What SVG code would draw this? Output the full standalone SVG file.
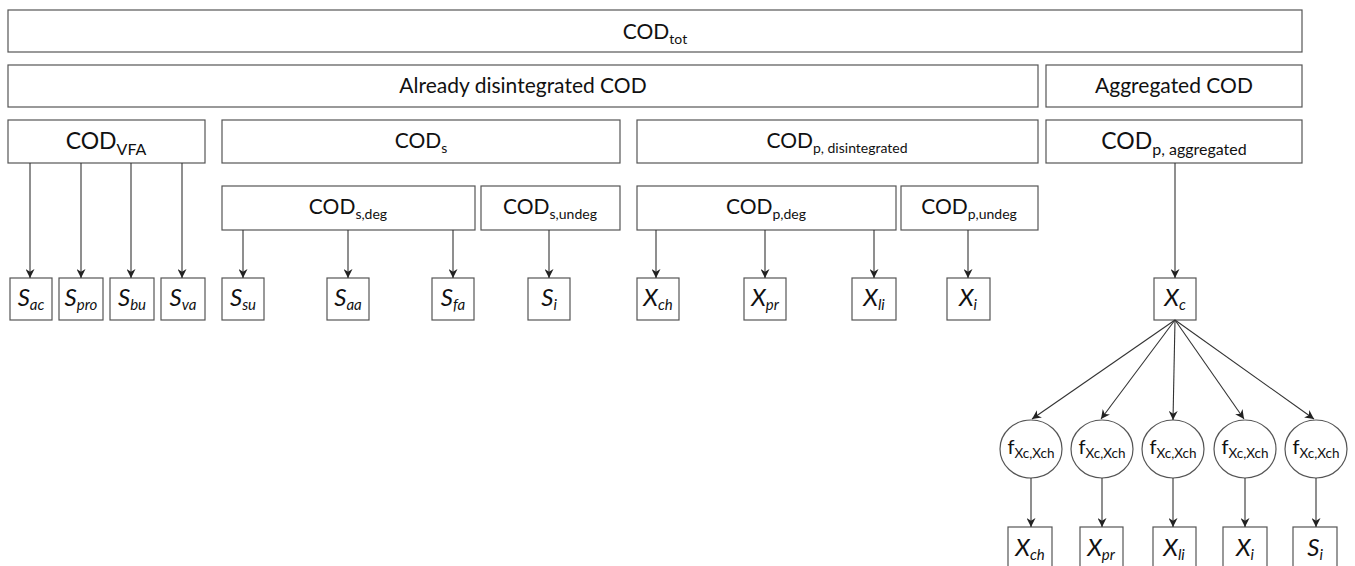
<svg xmlns="http://www.w3.org/2000/svg" width="1355" height="566" viewBox="0 0 1355 566">
<defs>
<marker id="arr" viewBox="0 0 10 10" refX="10" refY="5" markerWidth="9" markerHeight="9" markerUnits="userSpaceOnUse" orient="auto">
<path d="M0,0 L10,5 L0,10 L3,5 z" fill="#222"/>
</marker>
<style>
rect, ellipse { fill: #fff; stroke: #555; stroke-width: 1.2; }
.c line { stroke: #333; stroke-width: 1.1; marker-end: url(#arr); }
text { font-family: Lato, "Open Sans", "Liberation Sans", sans-serif; fill: #111; text-anchor: middle; }
.h { font-size: 21px; }
.hb { font-size: 23px; }
.sub { font-size: 14px; }
.leaf { font-size: 24px; font-style: italic; }
.ls { font-size: 15px; font-style: italic; }
.f { font-size: 20px; }
.fs { font-size: 13.5px; }
</style>
</defs>
<rect width="1355" height="566" fill="#fff" style="stroke:none"/>

<g id="cod-tot"><rect x="8" y="10" width="1294" height="42"/><text class="h" x="655" y="39">COD<tspan class="sub" dy="5">tot</tspan></text></g>
<g id="already"><rect x="8" y="65" width="1030" height="42"/><text class="h" x="523" y="93">Already disintegrated COD</text></g>
<g id="aggregated"><rect x="1046" y="65" width="256" height="42"/><text class="h" x="1174" y="93">Aggregated COD</text></g>

<g id="cod-vfa"><rect x="8" y="120" width="197" height="43"/><text class="hb" x="106" y="149">COD<tspan class="sub" dy="6" style="font-size:16px">VFA</tspan></text></g>
<g id="cod-s"><rect x="222" y="120" width="398" height="43"/><text class="h" x="421" y="148">COD<tspan class="sub" dy="5">s</tspan></text></g>
<g id="cod-p-dis"><rect x="637" y="120" width="401" height="43"/><text class="h" x="837" y="148">COD<tspan class="sub" dy="5">p, disintegrated</tspan></text></g>
<g id="cod-p-agg"><rect x="1046" y="120" width="256" height="43"/><text class="hb" x="1174" y="149">COD<tspan class="sub" dy="6" style="font-size:16px">p, aggregated</tspan></text></g>

<g id="cod-s-deg"><rect x="222" y="186" width="253" height="44"/><text class="h" x="348" y="214">COD<tspan class="sub" dy="5">s,deg</tspan></text></g>
<g id="cod-s-undeg"><rect x="481" y="186" width="139" height="44"/><text class="h" x="550" y="214">COD<tspan class="sub" dy="5">s,undeg</tspan></text></g>
<g id="cod-p-deg"><rect x="637" y="186" width="259" height="44"/><text class="h" x="766" y="214">COD<tspan class="sub" dy="5">p,deg</tspan></text></g>
<g id="cod-p-undeg"><rect x="901" y="186" width="137" height="44"/><text class="h" x="969" y="214">COD<tspan class="sub" dy="5">p,undeg</tspan></text></g>

<g id="s-ac"><rect x="10" y="278" width="42" height="42"/><text class="leaf" x="31" y="306">S<tspan class="ls" dy="4">ac</tspan></text></g>
<g id="s-pro"><rect x="59" y="278" width="44" height="42"/><text class="leaf" x="81" y="306">S<tspan class="ls" dy="4">pro</tspan></text></g>
<g id="s-bu"><rect x="110" y="278" width="44" height="42"/><text class="leaf" x="132" y="306">S<tspan class="ls" dy="4">bu</tspan></text></g>
<g id="s-va"><rect x="161" y="278" width="44" height="42"/><text class="leaf" x="183" y="306">S<tspan class="ls" dy="4">va</tspan></text></g>
<g id="s-su"><rect x="222" y="278" width="42" height="42"/><text class="leaf" x="243" y="306">S<tspan class="ls" dy="4">su</tspan></text></g>
<g id="s-aa"><rect x="327" y="278" width="42" height="42"/><text class="leaf" x="348" y="306">S<tspan class="ls" dy="4">aa</tspan></text></g>
<g id="s-fa"><rect x="432" y="278" width="42" height="42"/><text class="leaf" x="453" y="306">S<tspan class="ls" dy="4">fa</tspan></text></g>
<g id="s-i"><rect x="528" y="278" width="42" height="42"/><text class="leaf" x="549" y="306">S<tspan class="ls" dy="4">i</tspan></text></g>
<g id="x-ch"><rect x="637" y="278" width="42" height="42"/><text class="leaf" x="658" y="306">X<tspan class="ls" dy="4">ch</tspan></text></g>
<g id="x-pr"><rect x="744" y="278" width="42" height="42"/><text class="leaf" x="765" y="306">X<tspan class="ls" dy="4">pr</tspan></text></g>
<g id="x-li"><rect x="852" y="278" width="44" height="42"/><text class="leaf" x="874" y="306">X<tspan class="ls" dy="4">li</tspan></text></g>
<g id="x-i"><rect x="947" y="278" width="43" height="42"/><text class="leaf" x="968" y="306">X<tspan class="ls" dy="4">i</tspan></text></g>
<g id="x-c"><rect x="1154" y="278" width="42" height="42"/><text class="leaf" x="1175" y="306">X<tspan class="ls" dy="4">c</tspan></text></g>

<g id="f1"><ellipse cx="1031" cy="449" rx="31" ry="29"/><text class="f" x="1031" y="454">f<tspan class="fs" dy="4">Xc,Xch</tspan></text></g>
<g id="f2"><ellipse cx="1102" cy="449" rx="31" ry="29"/><text class="f" x="1102" y="454">f<tspan class="fs" dy="4">Xc,Xch</tspan></text></g>
<g id="f3"><ellipse cx="1173" cy="449" rx="31" ry="29"/><text class="f" x="1173" y="454">f<tspan class="fs" dy="4">Xc,Xch</tspan></text></g>
<g id="f4"><ellipse cx="1245" cy="449" rx="31" ry="29"/><text class="f" x="1245" y="454">f<tspan class="fs" dy="4">Xc,Xch</tspan></text></g>
<g id="f5"><ellipse cx="1316" cy="449" rx="31" ry="29"/><text class="f" x="1316" y="454">f<tspan class="fs" dy="4">Xc,Xch</tspan></text></g>

<g id="b-x-ch"><rect x="1008" y="527" width="44" height="44"/><text class="leaf" x="1030" y="556">X<tspan class="ls" dy="4">ch</tspan></text></g>
<g id="b-x-pr"><rect x="1080" y="527" width="43" height="44"/><text class="leaf" x="1101" y="556">X<tspan class="ls" dy="4">pr</tspan></text></g>
<g id="b-x-li"><rect x="1153" y="527" width="43" height="44"/><text class="leaf" x="1174" y="556">X<tspan class="ls" dy="4">li</tspan></text></g>
<g id="b-x-i"><rect x="1223" y="527" width="44" height="44"/><text class="leaf" x="1245" y="556">X<tspan class="ls" dy="4">i</tspan></text></g>
<g id="b-s-i"><rect x="1293" y="527" width="44" height="44"/><text class="leaf" x="1315" y="556">S<tspan class="ls" dy="4">i</tspan></text></g>

<g class="c" id="connectors">
<line x1="30" y1="163" x2="30" y2="278"/>
<line x1="81" y1="163" x2="81" y2="278"/>
<line x1="131" y1="163" x2="131" y2="278"/>
<line x1="182" y1="163" x2="182" y2="278"/>
<line x1="243" y1="230" x2="243" y2="278"/>
<line x1="348" y1="230" x2="348" y2="278"/>
<line x1="453" y1="230" x2="453" y2="278"/>
<line x1="549" y1="230" x2="549" y2="278"/>
<line x1="656" y1="230" x2="656" y2="278"/>
<line x1="765" y1="230" x2="765" y2="278"/>
<line x1="874" y1="230" x2="874" y2="278"/>
<line x1="968" y1="230" x2="968" y2="278"/>
<line x1="1175" y1="163" x2="1175" y2="278"/>
<line x1="1175" y1="320" x2="1032" y2="419"/>
<line x1="1175" y1="320" x2="1101" y2="419"/>
<line x1="1175" y1="320" x2="1173" y2="420"/>
<line x1="1175" y1="320" x2="1244" y2="419"/>
<line x1="1175" y1="320" x2="1314" y2="419"/>
<line x1="1031" y1="478" x2="1031" y2="527"/>
<line x1="1102" y1="478" x2="1102" y2="527"/>
<line x1="1173" y1="478" x2="1173" y2="527"/>
<line x1="1245" y1="478" x2="1245" y2="527"/>
<line x1="1316" y1="478" x2="1316" y2="527"/>
</g>
</svg>
